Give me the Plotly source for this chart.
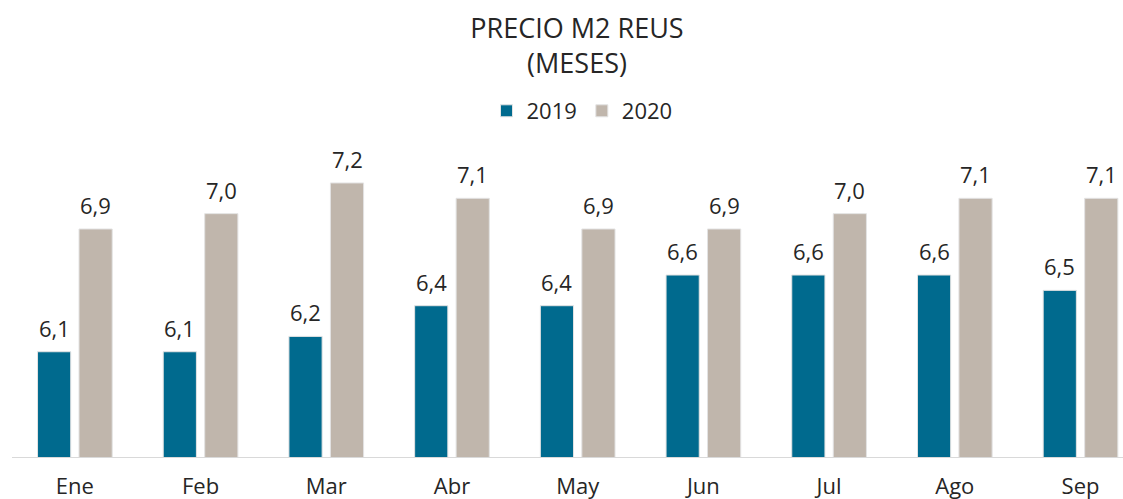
import plotly.graph_objects as go

months = ["Ene", "Feb", "Mar", "Abr", "May", "Jun", "Jul", "Ago", "Sep"]
v2019 = [6.1, 6.1, 6.2, 6.4, 6.4, 6.6, 6.6, 6.6, 6.5]
v2020 = [6.9, 7.0, 7.2, 7.1, 6.9, 6.9, 7.0, 7.1, 7.1]

FONT = "Open Sans"
TXT = "#262626"
BARGAP = 0.34
BARGROUPGAP = 0.2

fig = go.Figure()
fig.add_trace(go.Bar(
    x=months, y=v2019, name="2019",
    marker=dict(color="#006A8E", line=dict(color="#E3E3E3", width=1)),
))
fig.add_trace(go.Bar(
    x=months, y=v2020, name="2020",
    marker=dict(color="#C0B6AC", line=dict(color="#E3E3E3", width=1)),
))

# value labels above each bar (centres of the two grouped bars)
half = (1 - BARGAP) / 4
for series, sign in ((v2019, -1), (v2020, 1)):
    for i, v in enumerate(series):
        fig.add_annotation(
            x=i + sign * half, y=v, xref="x", yref="y",
            text=f"{v:.1f}".replace(".", ","),
            showarrow=False, yanchor="bottom", yshift=7,
            font=dict(family=FONT, size=22, color=TXT),
        )

fig.update_layout(
    width=1123, height=499,
    paper_bgcolor="white", plot_bgcolor="white",
    separators=", ",
    barmode="group", bargap=BARGAP, bargroupgap=BARGROUPGAP,
    margin=dict(l=12, r=0, t=140, b=42),
    title=dict(
        text="PRECIO M2 REUS<br>(MESES)",
        x=577 / 1123, xanchor="center", xref="container",
        y=1 - 38 / 499, yanchor="top", yref="container",
        font=dict(family=FONT, size=27, color=TXT),
    ),
    legend=dict(
        orientation="h",
        xref="container", x=582 / 1123, xanchor="center",
        yref="container", y=1 - 111 / 499, yanchor="middle",
        font=dict(family=FONT, size=22, color=TXT),
        traceorder="normal",
    ),
    showlegend=True,
)
fig.update_xaxes(
    range=[-0.5, 8.338], automargin=False,
    showline=True, linecolor="#D9D9D9", linewidth=1,
    ticks="outside", ticklen=10, tickcolor="rgba(0,0,0,0)",
    tickfont=dict(family=FONT, size=22, color=TXT),
    showgrid=False, zeroline=False,
)
fig.update_yaxes(
    range=[5.414, 7.48], automargin=False,
    visible=False, showgrid=False, zeroline=False,
)

fig.write_html(
    "out.html",
    config={"displayModeBar": False},
    post_script="document.body.style.margin='0';",
)
